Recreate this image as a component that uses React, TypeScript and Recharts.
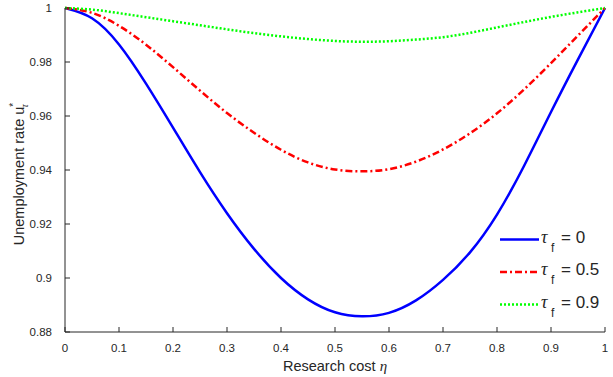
import { LineChart, Line, XAxis, YAxis } from 'recharts';

// research cost eta on the x axis
const eta = [0, 0.05, 0.1, 0.15, 0.2, 0.25, 0.3, 0.35, 0.4, 0.45, 0.5, 0.55, 0.6, 0.65, 0.7, 0.75, 0.8, 0.85, 0.9, 0.95, 1];

// unemployment rate for each tau_f
const uTau0 = [1, 0.9962, 0.9865, 0.972, 0.9557, 0.9392, 0.924, 0.9108, 0.9, 0.8921, 0.8873, 0.8858, 0.8871, 0.8917, 0.8993, 0.9095, 0.9235, 0.9415, 0.9615, 0.981, 1];
const uTau05 = [1, 0.9982, 0.9934, 0.9864, 0.9781, 0.9694, 0.9611, 0.9538, 0.9475, 0.9428, 0.9402, 0.9395, 0.9403, 0.9431, 0.9476, 0.9536, 0.961, 0.9698, 0.9796, 0.9898, 1];
const uTau09 = [1, 0.9994, 0.9981, 0.9966, 0.9951, 0.9936, 0.9921, 0.9907, 0.9895, 0.9885, 0.9878, 0.9875, 0.9877, 0.9883, 0.9892, 0.9908, 0.9928, 0.9948, 0.9967, 0.9984, 1];

const xTicks = [0, 0.1, 0.2, 0.3, 0.4, 0.5, 0.6, 0.7, 0.8, 0.9, 1];
const yTicks = [0.88, 0.9, 0.92, 0.94, 0.96, 0.98, 1];

const series = [
  { key: 'tau0', label: '0', color: '#0000FF', dash: undefined as string | undefined },
  { key: 'tau05', label: '0.5', color: '#FF0000', dash: '7 3 2 3' },
  { key: 'tau09', label: '0.9', color: '#00FF00', dash: '2 2' },
];

const data = eta.map((e, i) => ({ eta: e, tau0: uTau0[i], tau05: uTau05[i], tau09: uTau09[i] }));

const FONT = '"Liberation Sans", Arial, Helvetica, sans-serif';
const INK = '#262626';

// matlab style tick text: 1, 0.9, 0.98
const fmt = (v: number) => String(Number(v.toFixed(2)));

const XTick = (props: any) => {
  const { x, y, payload } = props;
  return (
    <g>
      <line x1={x} x2={x} y1={y} y2={y - 5} stroke={INK} strokeWidth={1} />
      <text x={x} y={y + 20} textAnchor="middle" fontSize={11.5} fill={INK} fontFamily={FONT}>
        {fmt(payload.value)}
      </text>
    </g>
  );
};

const YTick = (props: any) => {
  const { x, y, payload } = props;
  return (
    <g>
      <line x1={x} x2={x + 5} y1={y} y2={y} stroke={INK} strokeWidth={1} />
      <text x={x - 13} y={y + 4} textAnchor="end" fontSize={11.5} fill={INK} fontFamily={FONT}>
        {fmt(payload.value)}
      </text>
    </g>
  );
};

export default function App() {
  return (
    <div style={{ position: 'absolute', left: 0, top: 0, width: 613, height: 377, background: '#fff' }}>
      <LineChart width={613} height={377} data={data} margin={{ top: 8, right: 8, bottom: 0, left: 0 }}>
        <XAxis
          dataKey="eta"
          type="number"
          domain={[0, 1]}
          ticks={xTicks}
          height={45}
          stroke={INK}
          tickLine={false}
          tickSize={0}
          tickMargin={0}
          tick={<XTick />}
          interval={0}
        />
        <YAxis
          type="number"
          domain={[0.88, 1]}
          ticks={yTicks}
          width={65}
          stroke={INK}
          tickLine={false}
          tickSize={0}
          tickMargin={0}
          tick={<YTick />}
          interval={0}
        />
        {series.map((s) => (
          <Line
            key={s.key}
            dataKey={s.key}
            type="natural"
            stroke={s.color}
            strokeWidth={2.5}
            strokeDasharray={s.dash}
            dot={false}
            isAnimationActive={false}
          />
        ))}
      </LineChart>

      {/* axis titles and legend laid over the chart */}
      <svg width={613} height={377} style={{ position: 'absolute', left: 0, top: 0, pointerEvents: 'none' }}>
        <text x={335} y={371} textAnchor="middle" fontSize={14.5} fill={INK} fontFamily={FONT}>
          Research cost{' '}
          <tspan fontStyle="italic" fontFamily='"Liberation Serif", serif' fontSize={15}>η</tspan>
        </text>
        <text
          transform="translate(24, 174) rotate(-90)"
          textAnchor="middle"
          fontSize={14.5}
          fill={INK}
          fontFamily={FONT}
        >
          Unemployment rate u
          <tspan fontSize={10} dy={-7}>*</tspan>
          <tspan fontSize={10} dx={-5} dy={11} fontStyle="italic" fontFamily='"Liberation Serif", serif'>τ</tspan>
        </text>
        {series.map((s, i) => {
          const ly = 239.5 + i * 32.5;
          return (
            <g key={s.key}>
              <line x1={500} x2={539} y1={ly} y2={ly} stroke={s.color} strokeWidth={2.5} strokeDasharray={s.dash} />
              <text x={541} y={ly + 3} fontSize={18} fill={INK} fontFamily='"Liberation Serif", serif' fontStyle="italic">
                τ
              </text>
              <text x={551} y={ly + 12} fontSize={12} fill={INK} fontFamily={FONT}>
                f
              </text>
              <text x={561} y={ly + 3} fontSize={17} fill={INK} fontFamily={FONT}>
                = {s.label}
              </text>
            </g>
          );
        })}
      </svg>
    </div>
  );
}
